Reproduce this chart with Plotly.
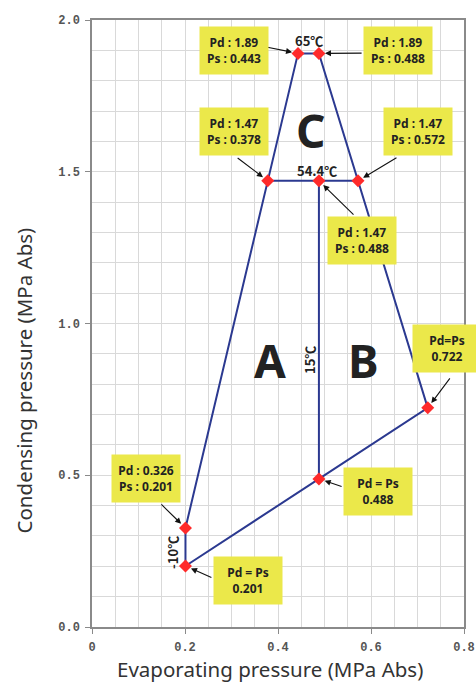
import plotly.graph_objects as go

# ---- data ----
pt_x = [0.201, 0.201, 0.378, 0.443, 0.488, 0.572, 0.722, 0.488, 0.488]
pt_y = [0.201, 0.326, 1.47, 1.89, 1.89, 1.47, 0.722, 0.488, 1.47]
outline_order = [0, 1, 2, 3, 4, 5, 6, 7, 0]
hline = [2, 8, 5]
vline = [8, 7]
box_texts = ["Pd : 1.89<br>Ps : 0.443", "Pd : 1.89<br>Ps : 0.488",
             "Pd : 1.47<br>Ps : 0.378", "Pd : 1.47<br>Ps : 0.572",
             "Pd : 1.47<br>Ps : 0.488", "Pd=Ps<br>0.722",
             "Pd = Ps<br>0.488", "Pd : 0.326<br>Ps : 0.201",
             "Pd = Ps<br>0.201"]
box_point = [3, 4, 2, 5, 8, 6, 7, 1, 0]
x_ticks = [0, 0.2, 0.4, 0.6, 0.8]
x_tick_text = ["0", "0.2", "0.4", "0.6", "0.8"]
y_ticks = [0.0, 0.5, 1.0, 1.5, 2.0]
y_tick_text = ["0.0", "0.5", "1.0", "1.5", "2.0"]

# ---- layout positions (box centre, arrow tail) ----
box_pos = [(0.3054, 1.898), (0.657, 1.898), (0.3054, 1.631), (0.701, 1.631),
           (0.5796, 1.2735), (0.7624, 0.919), (0.614, 0.445), (0.1161, 0.489),
           (0.3355, 0.1516)]
tail_pos = [(0.374, 1.911), (0.583, 1.891), (0.310, 1.549), (0.658, 1.549),
            (0.5656, 1.354), (0.772, 0.824), (0.540, 0.461), (0.146, 0.4086),
            (0.260, 0.161)]

NAVY = "#2B3990"
fig = go.Figure()

def seg(idx):
    return [pt_x[i] for i in idx], [pt_y[i] for i in idx]

for idx in (outline_order, hline, vline):
    xs, ys = seg(idx)
    fig.add_trace(go.Scatter(x=xs, y=ys, mode="lines",
                             line=dict(color=NAVY, width=2), hoverinfo="skip"))

fig.add_trace(go.Scatter(x=pt_x, y=pt_y, mode="markers",
                         marker=dict(symbol="diamond", size=10, color="#FF2A2A"),
                         cliponaxis=False))

ann = []
for t, (bx, by), (tx, ty), pi in zip(box_texts, box_pos, tail_pos, box_point):
    ann.append(dict(x=pt_x[pi], y=pt_y[pi], ax=tx, ay=ty, axref="x", ayref="y",
                    xref="x", yref="y", text="", showarrow=True,
                    arrowhead=2, arrowsize=1.1, arrowwidth=1.1, arrowcolor="#111",
                    standoff=6))
    ann.append(dict(x=bx, y=by, xref="x", yref="y", text="<b>" + t + "</b>",
                    showarrow=False, bgcolor="#EBE84A", width=68, height=47,
                    borderpad=0, font=dict(family="Noto Sans", size=12, color="#222")))

big = dict(family="Noto Sans", size=46, color="#222")
for txt, x, y in [("C", 0.471, 1.6375), ("A", 0.383, 0.880), ("B", 0.583, 0.880)]:
    ann.append(dict(x=x, y=y, xref="x", yref="y", text="<b>" + txt + "</b>",
                    showarrow=False, font=big))
cfont = dict(family="Noto Sans CJK KR", size=13, color="#222")
for txt, x, y in [("65℃", 0.4667, 1.934), ("54.4℃", 0.484, 1.5025)]:
    ann.append(dict(x=x, y=y, xref="x", yref="y", text="<b>" + txt + "</b>",
                    showarrow=False, font=cfont))
for txt, x, y in [("15℃", 0.469, 0.880), ("-10℃", 0.172, 0.247)]:
    ann.append(dict(x=x, y=y, xref="x", yref="y", text="<b>" + txt + "</b>",
                    showarrow=False, textangle=-90, font=cfont))

# axis titles as paper annotations
tfont = dict(family="Noto Sans", size=20.5, color="#333")
ann.append(dict(x=0, y=0.5, xref="paper", yref="paper", xanchor="center",
                yanchor="middle", xshift=-69, yshift=-57,
                text="Condensing pressure (MPa Abs)",
                textangle=-90, showarrow=False, font=tfont))
ann.append(dict(x=0.5, y=0, xref="paper", yref="paper", xanchor="center",
                yanchor="middle", yshift=-42, xshift=-8,
                text="Evaporating pressure (MPa Abs)", showarrow=False, font=tfont))

tickfont = dict(family="Liberation Mono", size=12, color="#555", weight="bold")
common = dict(showgrid=True, gridcolor="#D9D9D9", gridwidth=1,
              showline=True, linecolor="#8A8A8A", linewidth=1.5, mirror=True,
              ticks="outside", ticklen=5, tickcolor="#8A8A8A", zeroline=False,
              tickfont=tickfont, automargin=False, ticklabelstandoff=3)
fig.update_layout(
    width=476, height=682, showlegend=False,
    paper_bgcolor="white", plot_bgcolor="white",
    margin=dict(l=92, r=12, t=20, b=55),
    annotations=ann,
    xaxis=dict(range=[0, 0.8], tickvals=x_ticks, ticktext=x_tick_text,
               minor=dict(dtick=0.05, showgrid=True, gridcolor="#D9D9D9", gridwidth=1),
               **common),
    yaxis=dict(range=[0, 2.0], tickvals=y_ticks, ticktext=y_tick_text,
               minor=dict(dtick=0.1, showgrid=True, gridcolor="#D9D9D9", gridwidth=1),
               **common),
)
# remove the page's default 8px body margin so the figure fills the window
fig.write_html("out.html", config={"displayModeBar": False},
               post_script="document.body.style.margin='0';document.body.style.overflow='hidden';")
